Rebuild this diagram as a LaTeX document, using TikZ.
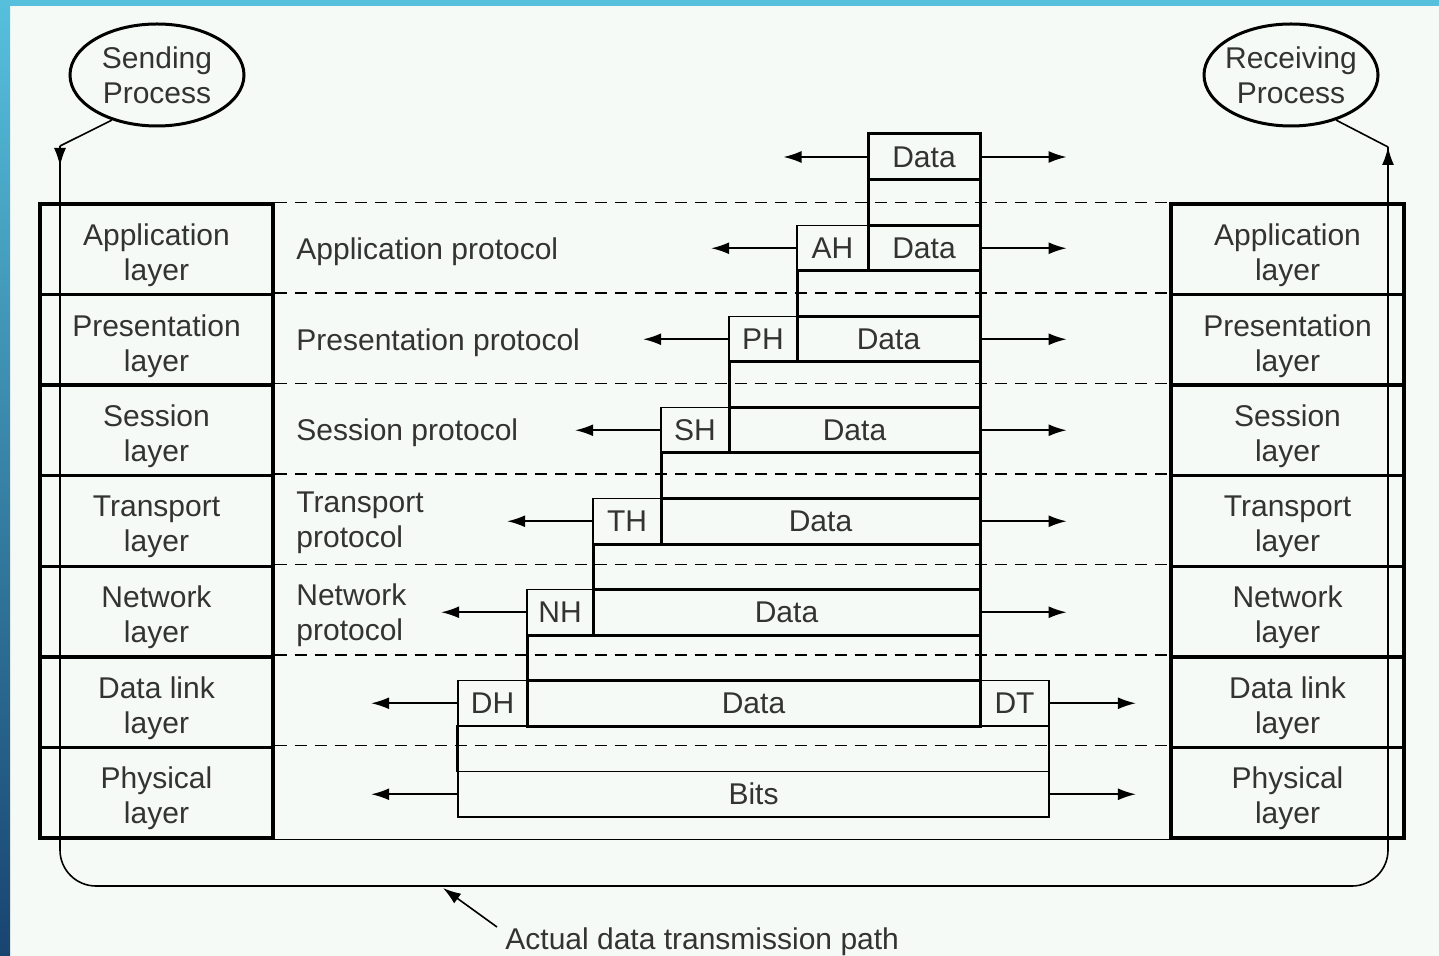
\documentclass[tikz,border=0pt]{standalone}
\usepackage{fontspec}
\setmainfont{Liberation Sans}
\usetikzlibrary{shapes.geometric,fit,arrows.meta}

\definecolor{paper}{RGB}{246,250,247}
\definecolor{frametop}{RGB}{86,192,220}
\definecolor{framebot}{RGB}{24,68,112}
\newcommand\txtsz{\fontsize{15}{17.5}\selectfont}

\begin{document}
\begin{tikzpicture}[x=0.5pt, y=-0.5pt,
  every node/.style={text=black!80, font=\txtsz},
  every label/.style={inner sep=0pt, align=center},
  layer/.style={draw, line width=1.7pt, inner sep=0pt},
  pdu/.style={draw, line width=1.5pt, inner sep=0pt},
  hdr/.style={draw, line width=0.8pt, inner sep=0pt},
  proto/.style={anchor=west, inner sep=0pt, align=left},
  proc/.style={ellipse, draw, line width=1.5pt, minimum width=87pt,
    minimum height=51pt, inner sep=-8pt, align=center},
  sepline/.style={line width=0.7pt, dash pattern=on 6pt off 4pt},
  wire/.style={line width=0.8pt},
  arr/.style={line width=0.8pt, -{Latex[length=9pt,width=6pt]}}]

  \useasboundingbox (0,0) rectangle (1439,956);
  \fill[paper] (0,0) rectangle (1439,956);
  \fill[top color=frametop, bottom color=framebot] (0,0) rectangle (10,956);
  \fill[frametop] (0,0) rectangle (1439,6);

  % end processes and the real path
  \node[proc] (send) at (157,75) {Sending\\Process};
  \node[proc] (recv) at (1291,75) {Receiving\\Process};
  \coordinate (sTop) at (60,146);
  \coordinate (sTip) at (60,166);
  \coordinate (rTop) at (1388,147);
  \coordinate (rTail) at (1388,172);
  \draw[wire] (send.225) -- (sTop);
  \draw[wire] (recv.315) -- (rTop);
  \draw[wire, rounded corners=18pt] (sTop) -- (60,886) -- (1388,886) -- (rTop);
  \draw[arr] (sTop) -- (sTip);
  \draw[arr] (rTail) -- (rTop);

  % the two layer stacks
  \foreach \nm/\lab [count=\i from 0] in {app/Application, pres/Presentation,
      ses/Session, tra/Transport, net/Network, dl/Data link, phy/Physical}{
    \pgfmathsetmacro\yt{204+90.57*\i}
    \node[layer, fit={(40,\yt) (273,\yt+90.57)},
      label={[yshift=-3pt]center:{\lab\\layer}}] (L\nm) {};
    \node[layer, fit={(1171,\yt) (1404,\yt+90.57)},
      label={[yshift=-3pt]center:{\lab\\layer}}] (R\nm) {};
    \draw[sepline] (L\nm.north east) -- (R\nm.north west);
  }
  \draw[wire] (Lphy.south east) -- (Rphy.south west);

  \node[proto] (papp) at (296,252) {Application protocol};
  \node[proto] (ppres) at (296,343) {Presentation protocol};
  \node[proto] (pses) at (296,433) {Session protocol};
  \node[proto] (ptra) at (296,523) {Transport\\protocol};
  \node[proto] (pnet) at (296,615) {Network\\protocol};

  % data handed down
  \node[pdu, fit={(868,134) (980,180)}, label=center:Data] (d0) {};
  \node[pdu, fit={(868,180) (980,225.5)}] (e0) {};
  \coordinate (l0) at ([shift={(-83,0)}]d0.west);
  \coordinate (r0) at ([shift={(85,0)}]d0.east);
  \draw[arr] (d0.west) -- (l0);
  \draw[arr] (d0.east) -- (r0);

  \foreach \nm/\hd/\xh/\xd [count=\k] in {app/AH/797/868, pres/PH/729/797,
      ses/SH/661/729, tra/TH/593/661, net/NH/527/593}{
    \pgfmathsetmacro\yt{134.5+91*\k}
    \node[hdr, fit={(\xh,\yt) (\xd,\yt+45.5)}, label=center:\hd] (h\nm) {};
    \node[pdu, fit={(\xd,\yt) (980,\yt+45.5)}, label=center:Data] (d\nm) {};
    \node[pdu, fit={(\xh,\yt+45.5) (980,\yt+91)}] (e\nm) {};
    \coordinate (l\nm) at ([shift={(-85,0)}]h\nm.west);
    \coordinate (r\nm) at ([shift={(85,0)}]d\nm.east);
    \draw[arr] (h\nm.west) -- (l\nm);
    \draw[arr] (d\nm.east) -- (r\nm);
  }

  \node[hdr, fit={(458,680.5) (527,726)}, label=center:DH] (hdl) {};
  \node[hdr, fit={(980,680.5) (1049,726)}, label=center:DT] (tdl) {};
  \node[pdu, fit={(527,680.5) (980,726)}, label=center:Data] (ddl) {};
  \node[hdr, fit={(458,726) (1049,771.5)}] (edl) {};
  \draw[line width=1.5pt] (edl.north west) -- (edl.south west);
  \node[hdr, fit={(458,771.5) (1049,817)}, label=center:Bits] (bits) {};
  \coordinate (ldl) at ([shift={(-86,0)}]hdl.west);
  \coordinate (rdl) at ([shift={(86,0)}]tdl.east);
  \coordinate (lbits) at ([shift={(-86,0)}]bits.west);
  \coordinate (rbits) at ([shift={(86,0)}]bits.east);
  \draw[arr] (hdl.west) -- (ldl);
  \draw[arr] (tdl.east) -- (rdl);
  \draw[arr] (bits.west) -- (lbits);
  \draw[arr] (bits.east) -- (rbits);

  \node[anchor=west, inner sep=0pt] (actual) at (505,942) {Actual data transmission path};
  \coordinate (aTip) at (443,888);
  \draw[arr] ([shift={(-8,-15)}]actual.west) -- (aTip);
\end{tikzpicture}
\end{document}
